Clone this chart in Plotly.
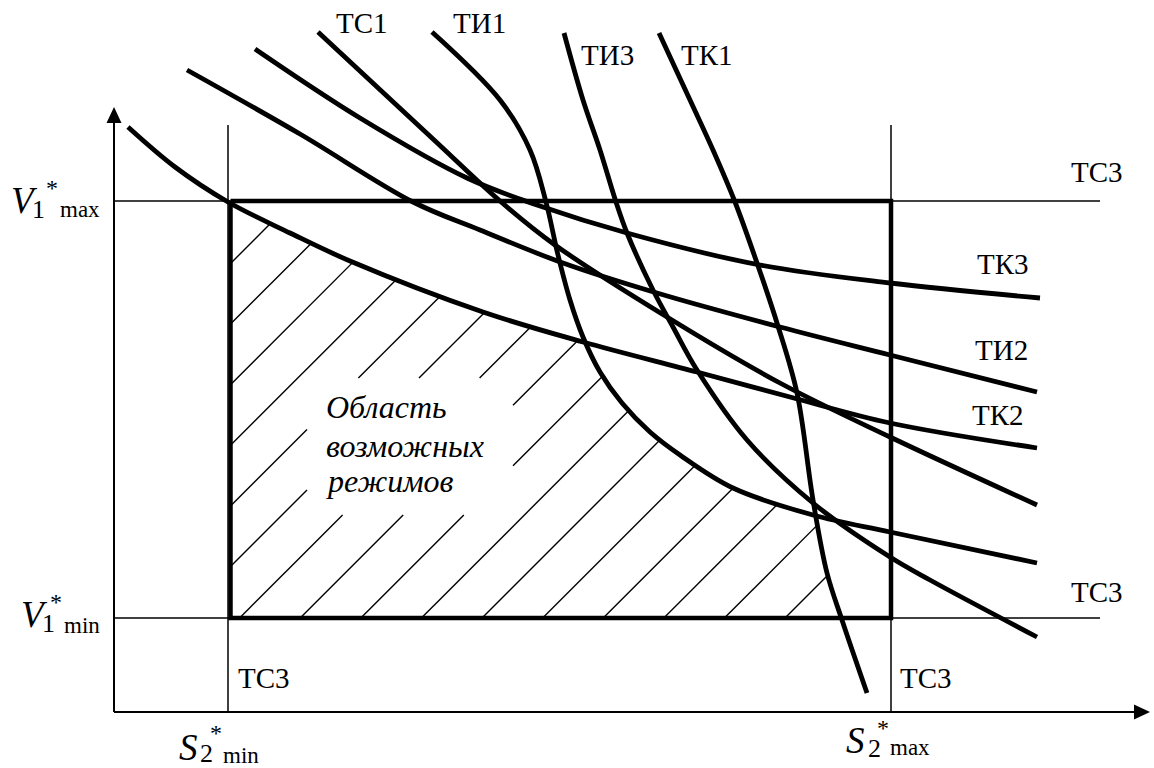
import numpy as np
import plotly.graph_objects as go

W, H = 1154, 768

# ---- levels of the schematic (pixel-like coordinates, y grows downward) ----
axis_x0 = 114          # vertical axis position
axis_y0 = 712          # horizontal axis position
axis_top = 107         # tip of vertical arrow
axis_right = 1150      # tip of horizontal arrow
S2_min = 229
S2_max = 891
V1_max = 201
V1_min = 618
guide_top = 125
guide_right = 1100

# ---- characteristic curves ----
tk2_x = [128, 175, 228, 290, 350, 483, 583, 697, 790, 890, 1037]
tk2_y = [127, 167, 202, 233, 261, 312, 342, 372, 397, 423, 448]

ti2_x = [187, 300, 413, 480, 563, 657, 780, 890, 1037]
ti2_y = [70, 134, 202, 230, 263, 293, 327, 355, 392]

tk3_x = [255, 360, 467, 540, 627, 760, 890, 1040]
tk3_y = [49, 118, 178, 206, 233, 265, 283, 298]

tc1_x = [318, 433, 500, 555, 667, 780, 890, 1037]
tc1_y = [32, 139, 201, 245, 317, 383, 437, 505]

ti1_x = [432, 500, 530, 546, 558, 570, 583, 600, 622, 650, 680, 733, 813, 890, 1037]
ti1_y = [32, 100, 150, 202, 255, 300, 337, 372, 403, 432, 455, 488, 515, 532, 563]

ti3_x = [564, 583, 600, 616, 627, 653, 673, 697, 747, 813, 890, 930, 1037]
ti3_y = [33, 100, 150, 202, 233, 290, 327, 370, 440, 503, 557, 580, 637]

tk1_x = [659, 690, 713, 735, 757, 777, 797, 813, 827, 842, 867]
tk1_y = [33, 100, 150, 202, 263, 323, 393, 500, 573, 620, 693]

# curve labels: text, centre x, centre y
curve_labels = [
    ("ТС1", 362, 23), ("ТИ1", 479, 23), ("ТИ3", 607, 55), ("ТК1", 707, 55),
    ("ТС3", 1097, 172), ("ТК3", 1003, 264), ("ТИ2", 1001, 350), ("ТК2", 998, 415),
    ("ТС3", 1097, 592), ("ТС3", 264, 678), ("ТС3", 926, 678),
]

region_lines = ["Область", "возможных", "режимов"]

# hatch pattern (style)
hatch_c0, hatch_step, hatch_n = 494.0, 60.6, 16
text_box = (307, 513, 378, 515)  # x0, x1, y0, y1 cleared area behind the text

fig = go.Figure()


def add_line(xs, ys, w, shape="linear"):
    fig.add_trace(go.Scatter(x=xs, y=ys, mode="lines",
                             line=dict(color="black", width=w, shape=shape),
                             hoverinfo="skip", showlegend=False))


# ---- hatching of the feasible region (clipped by TK2, TI1, TK1) ----
xs = np.linspace(S2_min, S2_max, 13201)
upper = np.maximum.reduce([
    np.full_like(xs, V1_max),
    np.interp(xs, tk2_x, tk2_y, left=-1e9, right=1e9),
    np.interp(xs, ti1_x, ti1_y, left=-1e9, right=1e9),
    np.interp(xs, tk1_x, tk1_y, left=-1e9, right=1e9),
])
hx, hy = [], []
bx0, bx1, by0, by1 = text_box
for k in range(hatch_n):
    c = hatch_c0 + hatch_step * k
    x_start = max(S2_min, c - V1_min)
    ok = (c - xs) > upper
    idx = np.where(~ok & (xs > x_start))[0]
    x_end = xs[idx[0]] if len(idx) else S2_max
    if x_end <= x_start:
        continue
    segs = [(x_start, x_end)]
    lo, hi = max(bx0, c - by1), min(bx1, c - by0)
    if hi > lo:
        new = []
        for a, b in segs:
            if b <= lo or a >= hi:
                new.append((a, b))
            else:
                if a < lo:
                    new.append((a, lo))
                if b > hi:
                    new.append((hi, b))
        segs = new
    for a, b in segs:
        hx += [a, b, None]
        hy += [c - a, c - b, None]
add_line(hx, hy, 1.4)

# ---- axes ----
add_line([axis_x0, axis_x0], [axis_y0, axis_top + 14], 2)
add_line([axis_x0, axis_right - 14], [axis_y0, axis_y0], 2)
fig.add_trace(go.Scatter(x=[axis_x0 - 7.5, axis_x0, axis_x0 + 7.5, axis_x0 - 7.5],
                         y=[axis_top + 16, axis_top, axis_top + 16, axis_top + 16],
                         mode="lines", fill="toself", fillcolor="black",
                         line=dict(width=0, color="black"), hoverinfo="skip", showlegend=False))
fig.add_trace(go.Scatter(x=[axis_right - 16, axis_right, axis_right - 16, axis_right - 16],
                         y=[axis_y0 - 7.5, axis_y0, axis_y0 + 7.5, axis_y0 - 7.5],
                         mode="lines", fill="toself", fillcolor="black",
                         line=dict(width=0, color="black"), hoverinfo="skip", showlegend=False))

# ---- thin guide lines ----
add_line([axis_x0, guide_right], [V1_max, V1_max], 1.5)
add_line([axis_x0, guide_right], [V1_min, V1_min], 1.5)
add_line([S2_min - 1, S2_min - 1], [guide_top, axis_y0], 1.5)
add_line([S2_max, S2_max], [guide_top, axis_y0], 1.5)

# ---- thick rectangle ----
add_line([S2_min + 1.5, S2_max, S2_max, S2_min + 1.5, S2_min + 1.5],
         [V1_max, V1_max, V1_min, V1_min, V1_max], 4.5)

# ---- curves ----
for cx, cy in [(tk2_x, tk2_y), (ti2_x, ti2_y), (tk3_x, tk3_y), (tc1_x, tc1_y),
               (ti1_x, ti1_y), (ti3_x, ti3_y), (tk1_x, tk1_y)]:
    add_line(cx, cy, 4.8, "spline")

FONT = "Liberation Serif"
ann = []


def txt(t, x, y, size, xanchor="center", italic=False):
    ann.append(dict(text=f"<i>{t}</i>" if italic else t, x=x, y=y, xref="x", yref="y",
                    xanchor=xanchor, yanchor="middle", showarrow=False,
                    font=dict(family=FONT, size=size, color="black")))


for t, x, y in curve_labels:
    txt(t, x, y, 29)

# region caption
for i, (t, base) in enumerate(zip(region_lines, [418, 457, 492])):
    txt(t, 324, base - 11, 32, "left", True)


# composite symbols: main letter, index, star, sub text
def symbol(letter, idx, sub, lx, lbase, ix, ibase, sx, sbase, tx, tbase):
    txt(letter, lx, lbase - 12.5, 37, "left", True)
    txt(idx, ix, ibase - 9, 26, "left")
    txt("*", sx, sbase - 8, 24, "left")
    txt(sub, tx, tbase - 8, 23, "left")


symbol("V", "1", "max", 9, 213, 30, 218, 44, 196, 58, 217)
symbol("V", "1", "min", 19, 627, 40, 632, 48, 610, 62, 633)
symbol("S", "2", "min", 177, 760, 198, 762, 208, 741, 221, 763)
symbol("S", "2", "max", 844, 753, 866, 757, 875, 736, 888, 755)

fig.update_layout(
    width=W, height=H, margin=dict(l=0, r=0, t=0, b=0),
    paper_bgcolor="white", plot_bgcolor="white",
    xaxis=dict(range=[0, W], visible=False, fixedrange=True),
    yaxis=dict(range=[H, 0], visible=False, fixedrange=True),
    annotations=ann, showlegend=False,
)
fig.write_html("out.html", config={"displayModeBar": False},
               post_script="document.body.style.margin='0';")
